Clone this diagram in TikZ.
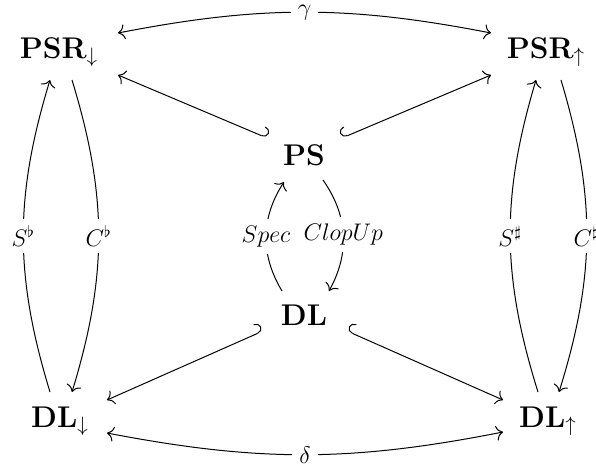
\documentclass[tikz,border=0pt]{standalone}
\usetikzlibrary{arrows.meta,calc}
\begin{document}
\begin{tikzpicture}[x=0.5pt,y=-0.5pt,
  obj/.style={anchor=base, inner sep=0pt, scale=1.04, font=\fontsize{14.4}{17}\selectfont},
  lab/.style={fill=white, font=\fontsize{11.5}{13}\selectfont, inner sep=3.5pt},
  every path/.style={line width=0.5pt},
  tip/.tip={To[length=3.4pt,width=7.5pt]},
  arr/.style={-tip},
  both/.style={tip-tip},
  hookl/.style={{Hooks[right,length=3pt,width=10pt]}-tip},
  hookr/.style={{Hooks[left,length=3pt,width=10pt]}-tip}
]
\useasboundingbox (0,0) rectangle (596,468);
\node[obj] (PSRd) at (59,58) {$\mathbf{PSR}_{\downarrow}$};
\node[obj] (PSRu) at (546,58) {$\mathbf{PSR}_{\uparrow}$};
\node[obj] (PS) at (304,165) {$\mathbf{PS}$};
\node[obj] (DL) at (304,325) {$\mathbf{DL}$};
\node[obj] (DLd) at (60,427) {$\mathbf{DL}_{\downarrow}$};
\node[obj] (DLu) at (548,427) {$\mathbf{DL}_{\uparrow}$};

\draw[both] ($(PSRd.base)+(59,-25)$) to[bend left=11] node[lab, inner ysep=0.5pt]{$\gamma$} ($(PSRu.base)+(-55,-25)$);
\draw[both] ($(DLd.base)+(47,6)$) to[bend right=11] node[lab, inner ysep=0.5pt]{$\delta$} ($(DLu.base)+(-45,5)$);

\draw[arr] ($(DLd.base)+(-10,-35)$) to[bend left=17] node[lab]{$S^\flat$} ($(PSRd.base)+(-9,22)$);
\draw[arr] ($(PSRd.base)+(13,22)$) to[bend left=17] node[lab]{$C^\flat$} ($(DLd.base)+(12,-35)$);
\draw[arr] ($(DLu.base)+(-10,-35)$) to[bend left=17] node[lab]{$S^\sharp$} ($(PSRu.base)+(-10,22)$);
\draw[arr] ($(PSRu.base)+(15,22)$) to[bend left=17] node[lab]{$C^\sharp$} ($(DLu.base)+(11,-35)$);

\draw[arr] ($(DL.base)+(-22,-34)$) to[bend left=32] node[lab]{$Spec$} ($(PS.base)+(-20,17)$);
\draw[arr] ($(PS.base)+(19,15)$) to[bend left=32] node[lab]{$ClopUp$} ($(DL.base)+(25,-34)$);

\draw[hookr] ($(PS.base)+(-37,-27)$) -- ($(PSRd.base)+(59,17)$);
\draw[hookl] ($(PS.base)+(38,-27)$) -- ($(PSRu.base)+(-55,17)$);
\draw[hookr] ($(DL.base)+(-41,6)$) -- ($(DLd.base)+(47,-27)$);
\draw[hookl] ($(DL.base)+(43,6)$) -- ($(DLu.base)+(-45,-27)$);
\end{tikzpicture}
\end{document}
